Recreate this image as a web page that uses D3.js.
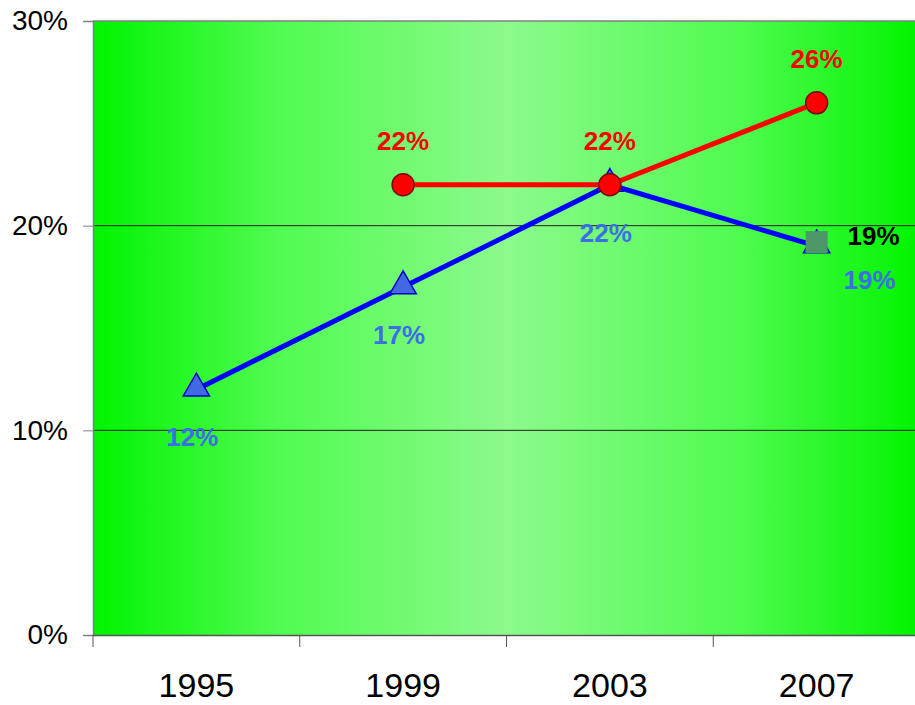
<!DOCTYPE html>
<html>
<head>
<meta charset="utf-8">
<script src="https://cdn.jsdelivr.net/npm/d3@7"></script>
<style>
  body { margin: 0; background: #fff; }
  svg { display: block; font-family: "Liberation Sans", Arial, sans-serif; }
</style>
</head>
<body>
<svg id="chart" width="915" height="705"></svg>
<script>
const years = ["1995", "1999", "2003", "2007"];
const blueValues = [12, 17, 22, 19];
const redValues = [null, 22, 22, 26];
const greenValues = [null, null, null, 19];
const yTicks = [0, 10, 20, 30];

const svg = d3.select("#chart");
const margin = { top: 21, right: -5, bottom: 70, left: 93 };
const width = 915, height = 705;

const x = d3.scaleBand().domain(years).range([margin.left, width - margin.right]).padding(0);
const y = d3.scaleLinear().domain([0, 30]).range([height - margin.bottom, margin.top]);
const cx = (d) => x(d.year) + x.bandwidth() / 2;

// background gradient of the plot area
const defs = svg.append("defs");
const grad = defs.append("linearGradient").attr("id", "bg").attr("x1", "0%").attr("x2", "100%");
grad.append("stop").attr("offset", "0%").attr("stop-color", "#00f400");
grad.append("stop").attr("offset", "22%").attr("stop-color", "#50fb50");
grad.append("stop").attr("offset", "50%").attr("stop-color", "#8cfa8c");
grad.append("stop").attr("offset", "78%").attr("stop-color", "#50fb50");
grad.append("stop").attr("offset", "100%").attr("stop-color", "#00f400");

svg.append("rect")
	.attr("x", margin.left)
	.attr("y", y(30))
	.attr("width", x.range()[1] - margin.left)
	.attr("height", y(0) - y(30))
	.attr("fill", "url(#bg)");

// grid lines
svg.append("g")
	.selectAll("line")
	.data(yTicks.filter((t) => t > 0 && t < 30))
	.enter()
	.append("line")
	.attr("x1", margin.left)
	.attr("x2", x.range()[1])
	.attr("y1", (d) => y(d))
	.attr("y2", (d) => y(d))
	.attr("stroke", "#222")
	.attr("stroke-width", 1);

// top border
svg.append("line")
	.attr("x1", margin.left).attr("x2", x.range()[1])
	.attr("y1", y(30)).attr("y2", y(30))
	.attr("stroke", "#808080").attr("stroke-width", 1.5);

// axes
const yAxis = svg.append("g")
	.attr("transform", `translate(${margin.left},0)`)
	.call(d3.axisLeft(y).tickValues(yTicks).tickFormat((d) => d + "%").tickSize(10).tickPadding(15));
yAxis.select(".domain").attr("stroke", "#808080").attr("stroke-width", 1.5);
yAxis.selectAll(".tick line").attr("stroke", "#808080");
yAxis.selectAll("text").style("font-size", "28px").attr("fill", "#000");

const xAxis = svg.append("g")
	.attr("transform", `translate(0,${y(0)})`)
	.call(d3.axisBottom(x).tickSize(0).tickPadding(38));
xAxis.select(".domain").attr("stroke", "#555").attr("stroke-width", 1.5);
xAxis.selectAll("text").style("font-size", "34px").attr("fill", "#000");
// category separators
xAxis.selectAll(".sep")
	.data(years)
	.enter()
	.append("line")
	.attr("x1", (d) => x(d))
	.attr("x2", (d) => x(d))
	.attr("y1", 0)
	.attr("y2", 12)
	.attr("stroke", "#555");

const blueData = years.map((year, i) => ({ year, v: blueValues[i] })).filter((d) => d.v != null);
const redData = years.map((year, i) => ({ year, v: redValues[i] })).filter((d) => d.v != null);
const greenData = years.map((year, i) => ({ year, v: greenValues[i] })).filter((d) => d.v != null);

const line = d3.line().x(cx).y((d) => y(d.v));

svg.append("path").datum(blueData).attr("d", line)
	.attr("fill", "none").attr("stroke", "#0000ff").attr("stroke-width", 5);

// triangles
svg.selectAll(".tri")
	.data(blueData)
	.enter()
	.append("path")
	.attr("d", d3.symbol().type(d3.symbolTriangle).size(300))
	.attr("transform", (d) => `translate(${cx(d)},${y(d.v) - 1})`)
	.attr("fill", "#4169e1")
	.attr("stroke", "#0000cc")
	.attr("stroke-width", 1.5);

svg.append("path").datum(redData).attr("d", line)
	.attr("fill", "none").attr("stroke", "#ff0000").attr("stroke-width", 5);

svg.selectAll(".circ")
	.data(redData)
	.enter()
	.append("circle")
	.attr("cx", cx)
	.attr("cy", (d) => y(d.v))
	.attr("r", 11)
	.attr("fill", "#ff0000")
	.attr("stroke", "#800000")
	.attr("stroke-width", 1.5);

svg.selectAll(".sq")
	.data(greenData)
	.enter()
	.append("rect")
	.attr("x", (d) => cx(d) - 11)
	.attr("y", (d) => y(d.v) - 15)
	.attr("width", 22)
	.attr("height", 22)
	.attr("fill", "#4d9668");

// value labels
const labelStyle = (sel, color) =>
	sel.attr("text-anchor", "middle")
		.attr("dominant-baseline", "central")
		.style("font-size", "26px")
		.style("font-weight", "bold")
		.attr("fill", color)
		.text((d) => d.v + "%");

svg.selectAll(".rl")
	.data(redData)
	.enter()
	.append("text")
	.attr("x", (d) => cx(d))
	.attr("y", (d) => y(d.v) - 44)
	.call(labelStyle, "#ff0000");

svg.selectAll(".bl")
	.data(blueData)
	.enter()
	.append("text")
	.attr("x", (d, i) => cx(d) + (i === 3 ? 53 : -4))
	.attr("y", (d, i) => y(d.v) + (i === 3 ? 34 : 48))
	.call(labelStyle, "#3a6fe6");

svg.selectAll(".gl")
	.data(greenData)
	.enter()
	.append("text")
	.attr("x", (d) => cx(d) + 57)
	.attr("y", (d) => y(d.v) - 10)
	.call(labelStyle, "#000");
</script>
</body>
</html>
